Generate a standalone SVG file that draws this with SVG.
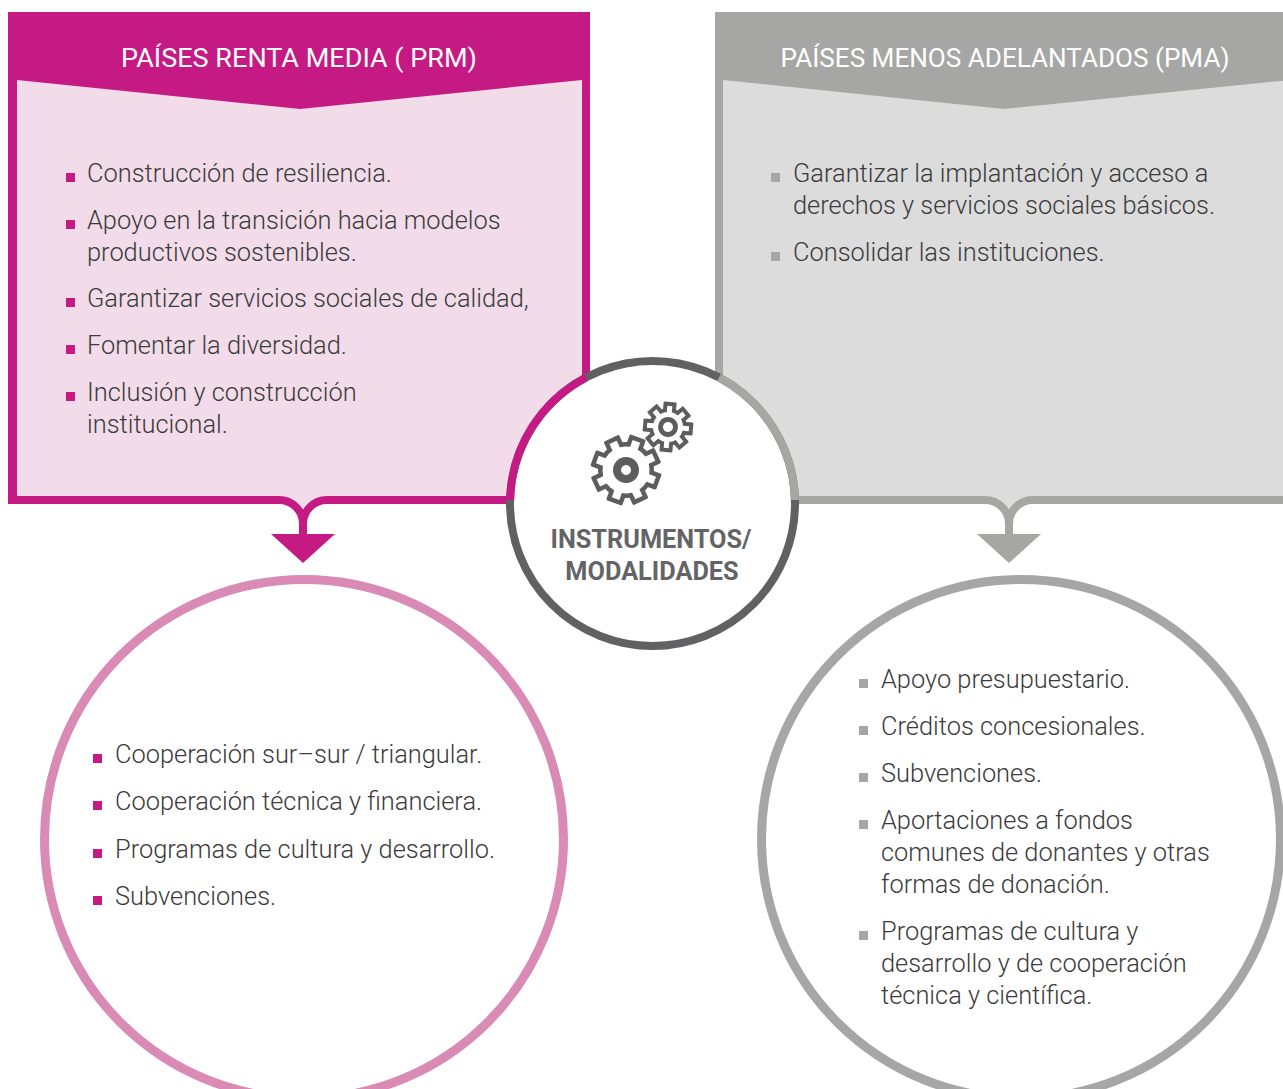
<svg xmlns="http://www.w3.org/2000/svg" xmlns:xlink="http://www.w3.org/1999/xlink" width="1283" height="1089" viewBox="0 0 1283 1089">
<style>
.hdr{font-family:Roboto,"Liberation Sans",sans-serif;font-size:25px;fill:#ffffff;text-anchor:middle}
.body{font-family:Roboto,"Liberation Sans",sans-serif;font-weight:300;font-size:25.4px;fill:#3b3b3b}
.ctr{font-family:Roboto,"Liberation Sans",sans-serif;font-weight:700;font-size:25.3px;fill:#646466;text-anchor:middle}
.bm{fill:#c51a84}
.bg{fill:#a6a6a6}
.mbr{fill:none;stroke:#c51a84;stroke-width:8}
.gbr{fill:none;stroke:#a6a6a4;stroke-width:8}
.gear{fill:#5d5d5f}
.wh{fill:#ffffff}
</style>
<defs>
<g id="toothBigOuter"><rect x="-8.5" y="-35" width="17" height="16" rx="1.5"/></g>
<g id="toothBigInner"><rect x="-4" y="-30.5" width="8" height="12" /></g>
<g id="toothSmOuter"><rect x="-6.5" y="-25" width="13" height="12" rx="1"/></g>
<g id="toothSmInner"><rect x="-2.5" y="-21" width="5" height="9" /></g>
</defs>
<rect x="0" y="0" width="1283" height="1089" fill="#ffffff"/>

<g id="node-prm">
  <rect x="8" y="12" width="582" height="488" fill="#c51a84"/>
  <path d="M17,80 L300,109 L582,80 L582,500 L327,500 L303,514 L279,500 L17,500 Z" fill="#f3dce9"/>
  <text class="hdr" x="299" y="67" textLength="356" lengthAdjust="spacingAndGlyphs">PAÍSES RENTA MEDIA ( PRM)</text>
  <rect class="bm" x="66" y="173" width="9" height="9"/>
  <text class="body" x="87" y="182">Construcción de resiliencia.</text>
  <rect class="bm" x="66" y="220" width="9" height="9"/>
  <text class="body" x="87" y="229">Apoyo en la transición hacia modelos</text>
  <text class="body" x="87" y="261">productivos sostenibles.</text>
  <rect class="bm" x="66" y="298" width="9" height="9"/>
  <text class="body" x="87" y="307">Garantizar servicios sociales de calidad,</text>
  <rect class="bm" x="66" y="345" width="9" height="9"/>
  <text class="body" x="87" y="354">Fomentar la diversidad.</text>
  <rect class="bm" x="66" y="392" width="9" height="9"/>
  <text class="body" x="87" y="401">Inclusión y construcción</text>
  <text class="body" x="87" y="433">institucional.</text>
</g>

<g id="node-pma">
  <rect x="715" y="12" width="580" height="488" fill="#a6a6a4"/>
  <path d="M723,80 L1004,109 L1290,80 L1290,500 L1033,500 L1009,514 L985,500 L723,500 Z" fill="#dcdcdc"/>
  <text class="hdr" x="1005" y="67" textLength="449" lengthAdjust="spacingAndGlyphs">PAÍSES MENOS ADELANTADOS (PMA)</text>
  <rect class="bg" x="771" y="173" width="9" height="9"/>
  <text class="body" x="793" y="182">Garantizar la implantación y acceso a</text>
  <text class="body" x="793" y="214">derechos y servicios sociales básicos.</text>
  <rect class="bg" x="771" y="252" width="9" height="9"/>
  <text class="body" x="793" y="261">Consolidar las instituciones.</text>
</g>

<g id="connectors">
  <path class="mbr" d="M8,500 H279 A24,24 0 0 1 303,524 V538"/>
  <path class="mbr" d="M590,500 H327 A24,24 0 0 0 303,524"/>
  <polygon points="271,534 335,534 303,563" fill="#c51a84"/>
  <path class="gbr" d="M715,500 H985 A24,24 0 0 1 1009,524 V538"/>
  <path class="gbr" d="M1290,500 H1033 A24,24 0 0 0 1009,524"/>
  <polygon points="977,534 1041,534 1009,563" fill="#a6a6a4"/>
</g>

<g id="node-instrumentos">
  <circle cx="652.5" cy="503.5" r="142.5" fill="#ffffff" stroke="#616163" stroke-width="8"/>
  <path d="M510.04,500 A142.5,142.5 0 0 1 586,377.47" fill="none" stroke="#c51a84" stroke-width="8"/>
  <path d="M719,377.47 A142.5,142.5 0 0 1 794.96,500" fill="none" stroke="#a6a6a4" stroke-width="8"/>
  <g transform="translate(626,470) rotate(20)">
    <g class="gear">
      <use xlink:href="#toothBigOuter"/>
      <use xlink:href="#toothBigOuter" transform="rotate(45)"/>
      <use xlink:href="#toothBigOuter" transform="rotate(90)"/>
      <use xlink:href="#toothBigOuter" transform="rotate(135)"/>
      <use xlink:href="#toothBigOuter" transform="rotate(180)"/>
      <use xlink:href="#toothBigOuter" transform="rotate(225)"/>
      <use xlink:href="#toothBigOuter" transform="rotate(270)"/>
      <use xlink:href="#toothBigOuter" transform="rotate(315)"/>
      <circle r="28"/>
    </g>
    <g class="wh">
      <use xlink:href="#toothBigInner"/>
      <use xlink:href="#toothBigInner" transform="rotate(45)"/>
      <use xlink:href="#toothBigInner" transform="rotate(90)"/>
      <use xlink:href="#toothBigInner" transform="rotate(135)"/>
      <use xlink:href="#toothBigInner" transform="rotate(180)"/>
      <use xlink:href="#toothBigInner" transform="rotate(225)"/>
      <use xlink:href="#toothBigInner" transform="rotate(270)"/>
      <use xlink:href="#toothBigInner" transform="rotate(315)"/>
      <circle r="23.5"/>
    </g>
    <circle class="gear" r="13"/>
    <circle class="wh" r="5"/>
  </g>
  <g transform="translate(668,427) rotate(5)">
    <g class="gear">
      <use xlink:href="#toothSmOuter"/>
      <use xlink:href="#toothSmOuter" transform="rotate(45)"/>
      <use xlink:href="#toothSmOuter" transform="rotate(90)"/>
      <use xlink:href="#toothSmOuter" transform="rotate(135)"/>
      <use xlink:href="#toothSmOuter" transform="rotate(180)"/>
      <use xlink:href="#toothSmOuter" transform="rotate(225)"/>
      <use xlink:href="#toothSmOuter" transform="rotate(270)"/>
      <use xlink:href="#toothSmOuter" transform="rotate(315)"/>
      <circle r="19"/>
    </g>
    <g class="wh">
      <use xlink:href="#toothSmInner"/>
      <use xlink:href="#toothSmInner" transform="rotate(45)"/>
      <use xlink:href="#toothSmInner" transform="rotate(90)"/>
      <use xlink:href="#toothSmInner" transform="rotate(135)"/>
      <use xlink:href="#toothSmInner" transform="rotate(180)"/>
      <use xlink:href="#toothSmInner" transform="rotate(225)"/>
      <use xlink:href="#toothSmInner" transform="rotate(270)"/>
      <use xlink:href="#toothSmInner" transform="rotate(315)"/>
      <circle r="15"/>
    </g>
    <circle class="gear" r="10"/>
    <circle class="wh" r="5"/>
  </g>
  <text class="ctr" x="651" y="548">INSTRUMENTOS/</text>
  <text class="ctr" x="652" y="580">MODALIDADES</text>
</g>

<g id="node-prm-instr">
  <circle cx="304" cy="839" r="259.5" fill="none" stroke="#d98bb5" stroke-width="9"/>
  <rect class="bm" x="93" y="754" width="9" height="9"/>
  <text class="body" x="115" y="763">Cooperación sur–sur / triangular.</text>
  <rect class="bm" x="93" y="801" width="9" height="9"/>
  <text class="body" x="115" y="810">Cooperación técnica y financiera.</text>
  <rect class="bm" x="93" y="849" width="9" height="9"/>
  <text class="body" x="115" y="858">Programas de cultura y desarrollo.</text>
  <rect class="bm" x="93" y="896" width="9" height="9"/>
  <text class="body" x="115" y="905">Subvenciones.</text>
</g>

<g id="node-pma-instr">
  <circle cx="1021" cy="839" r="259.5" fill="none" stroke="#a6a6a6" stroke-width="9"/>
  <rect class="bg" x="859" y="679" width="9" height="9"/>
  <text class="body" x="881" y="688">Apoyo presupuestario.</text>
  <rect class="bg" x="859" y="726" width="9" height="9"/>
  <text class="body" x="881" y="735">Créditos concesionales.</text>
  <rect class="bg" x="859" y="773" width="9" height="9"/>
  <text class="body" x="881" y="782">Subvenciones.</text>
  <rect class="bg" x="859" y="820" width="9" height="9"/>
  <text class="body" x="881" y="829">Aportaciones a fondos</text>
  <text class="body" x="881" y="861">comunes de donantes y otras</text>
  <text class="body" x="881" y="893">formas de donación.</text>
  <rect class="bg" x="859" y="931" width="9" height="9"/>
  <text class="body" x="881" y="940">Programas de cultura y</text>
  <text class="body" x="881" y="972">desarrollo y de cooperación</text>
  <text class="body" x="881" y="1004">técnica y científica.</text>
</g>
</svg>
